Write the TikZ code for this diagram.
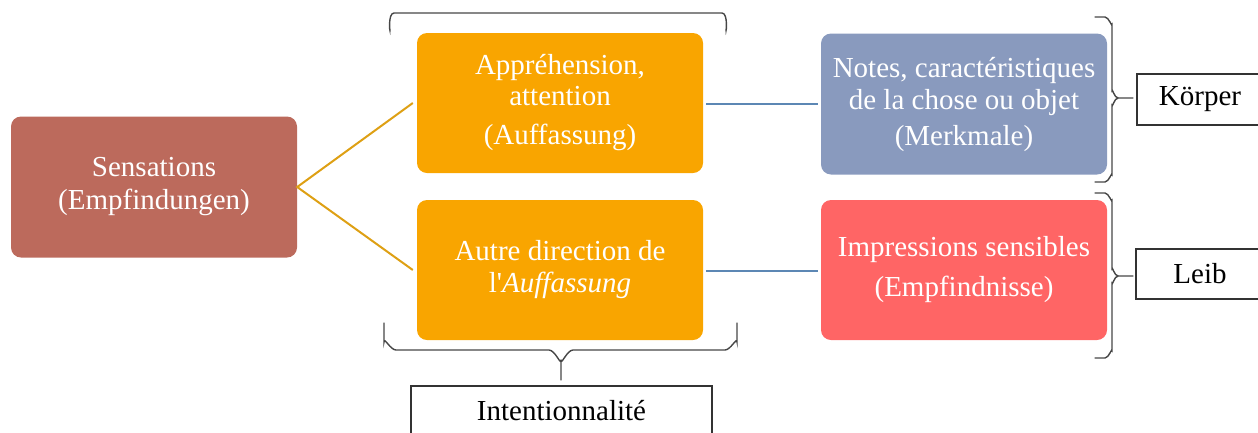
\documentclass[tikz,border=0pt]{standalone}
\usepackage{fontspec}
\setmainfont{Liberation Serif}
\definecolor{sensc}{RGB}{188,106,92}
\definecolor{orangec}{RGB}{249,165,0}
\definecolor{bluec}{RGB}{137,154,190}
\definecolor{redc}{RGB}{255,101,101}
\definecolor{linkblue}{RGB}{92,135,180}
\definecolor{linkgold}{RGB}{222,160,20}
\definecolor{brk}{RGB}{70,70,70}
\begin{document}
\begin{tikzpicture}[x=1pt,y=-1pt,
  box/.style={rounded corners=10pt, minimum width=286pt, minimum height=141pt,
    text=white, align=center, font=\fontsize{29}{32}\selectfont, inner sep=0pt,
    execute at begin node={\rule{0pt}{31pt}}},
  lbl/.style={draw=black!80, line width=1.1pt, fill=white, align=center,
    font=\fontsize{29}{32}\selectfont, inner sep=0pt},
  brace/.style={draw=brk, line width=1.4pt, line cap=round},
  goldlink/.style={draw=linkgold, line width=2pt},
  bluelink/.style={draw=linkblue, line width=2.2pt}]
\useasboundingbox (0,0) rectangle (1258,432);
\begin{scope}
\clip (0,0) rectangle (1258,432);
% boxes
\node[box, fill=sensc] (sens) at (154,187) {Sensations\\[1pt](Empfindungen)};
\node[box, fill=orangec, minimum height=140pt] (app) at (560,103) {Appréhension,\\[-1pt]attention\\[7pt](Auffassung)};
\node[box, fill=orangec, minimum height=140pt] (autre) at (560,270) {Autre direction de\\l\textquotesingle\textit{Auffassung}};
\node[box, fill=bluec] (notes) at (964,104) {Notes, caractéristiques\\de la chose ou objet\\[4pt](Merkmale)};
\node[box, fill=redc, minimum height=140pt] (impr) at (964,270) {Impressions sensibles\\[8pt](Empfindnisse)};
% label boxes
\node[lbl, minimum width=301pt, minimum height=50pt] (intent) at (561.5,411) {Intentionnalité};
\node[lbl, minimum width=126pt, minimum height=51pt] (koerper) at (1200,99.5) {Körper};
\node[lbl, minimum width=128pt, minimum height=50pt] (leib) at (1200,274) {Leib};
% connectors
\draw[goldlink] ([xshift=-4pt]app.west) -- (sens.east) -- ([xshift=-4pt]autre.west);
\draw[bluelink] ([xshift=3pt,yshift=-1pt]app.east) -- ([xshift=-3pt,yshift=-1pt]notes.west |- app.east);
\draw[bluelink] ([xshift=3pt,yshift=-1pt]autre.east) -- ([xshift=-3pt,yshift=-1pt]impr.west |- autre.east);
% top bracket
\draw[brace] (390,29) to[out=-90,in=180] (394,13) -- (722,13) to[out=0,in=-90] (726,29);
% bottom brace
\coordinate (btip) at (561,380);
\draw[brace] (384,323) -- (384,342) to[out=90,in=180] (396,350) -- (549,350)
  to[out=0,in=-90] (561,360) -- (btip);
\draw[brace] (737,323) -- (737,342) to[out=90,in=0] (725,350) -- (573,350)
  to[out=180,in=-90] (561,360);
% right brace Körper
\coordinate (ktip) at (1133,98);
\draw[brace] (1095,17) -- (1105,17) to[out=0,in=-90] (1112,24) -- (1112,91)
  to[out=90,in=180] (1118,98) -- (ktip);
\draw[brace] (1095,182) -- (1105,182) to[out=0,in=90] (1112,175) -- (1112,105)
  to[out=-90,in=180] (1118,98);
% right brace Leib
\coordinate (ltip) at (1133,276);
\draw[brace] (1095,193) -- (1105,193) to[out=0,in=-90] (1112,200) -- (1112,269)
  to[out=90,in=180] (1118,276) -- (ltip);
\draw[brace] (1095,358) -- (1105,358) to[out=0,in=90] (1112,351) -- (1112,283)
  to[out=-90,in=180] (1118,276);
\end{scope}
\end{tikzpicture}
\end{document}
